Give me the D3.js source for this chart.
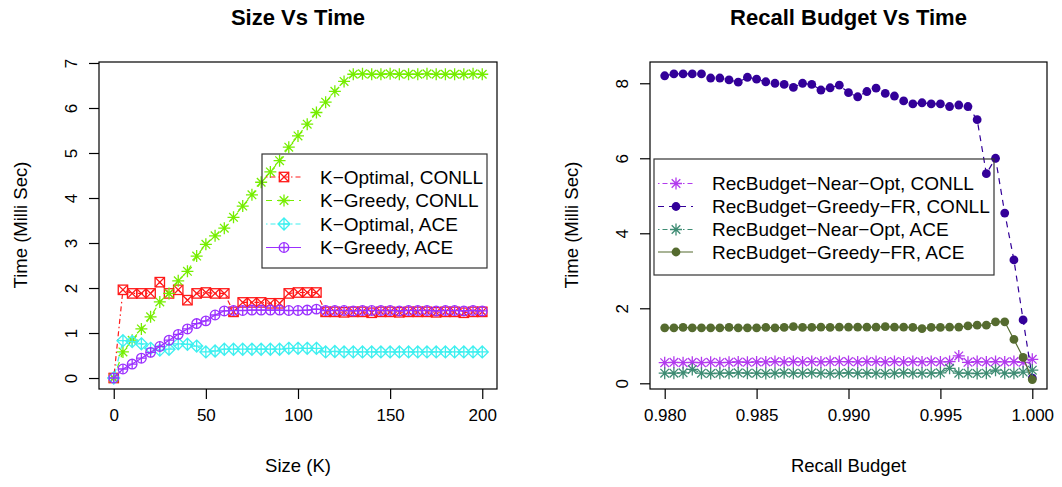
<!DOCTYPE html>
<html>
<head>
<meta charset="utf-8">
<script src="https://cdn.jsdelivr.net/npm/d3@7"></script>
<style>
  body { margin: 0; background: #fff; }
  svg { display: block; font-family: "Liberation Sans", Arial, sans-serif; }
</style>
</head>
<body>
<svg width="1062" height="487"></svg>
<script>
// left panel: size K vs time
var sizeK = [0,5,10,15,20,25,30,35,40,45,50,55,60,65,70,75,80,85,90,95,100,
  105,110,115,120,125,130,135,140,145,150,155,160,165,170,175,180,185,190,195,200];
var kOptConll = [0,1.96,1.88,1.88,1.88,2.13,1.88,1.96,1.73,1.88,1.9,1.88,1.88,1.47,1.68,1.68,1.68,1.66,1.66,1.88,1.9,
  1.9,1.9,1.47,1.47,1.46,1.47,1.47,1.45,1.47,1.47,1.46,1.47,1.47,1.47,1.46,1.47,1.47,1.45,1.47,1.47];
var kGreedyConll = [0,0.58,0.84,1.09,1.36,1.69,1.88,2.16,2.37,2.71,2.97,3.16,3.33,3.57,3.82,4.07,4.35,4.58,4.83,5.13,5.38,
  5.64,5.9,6.13,6.37,6.59,6.75,6.76,6.75,6.75,6.76,6.75,6.75,6.75,6.76,6.75,6.75,6.75,6.75,6.76,6.75];
var kOptAce = [0,0.83,0.81,0.76,0.66,0.62,0.64,0.76,0.75,0.71,0.58,0.6,0.64,0.64,0.64,0.64,0.64,0.64,0.64,0.66,0.66,
  0.66,0.66,0.58,0.59,0.58,0.58,0.58,0.58,0.58,0.58,0.58,0.58,0.58,0.58,0.58,0.58,0.58,0.58,0.58,0.58];
var kGreedyAce = [0,0.2,0.31,0.44,0.57,0.7,0.84,0.97,1.09,1.21,1.27,1.4,1.49,1.5,1.5,1.51,1.51,1.51,1.51,1.5,1.5,
  1.51,1.53,1.5,1.5,1.5,1.49,1.5,1.5,1.5,1.5,1.49,1.5,1.5,1.5,1.49,1.5,1.5,1.49,1.5,1.49];
var sizeTicks = [0,50,100,150,200];
var timeTicksL = [0,1,2,3,4,5,6,7];

// right panel: recall budget vs time
var recall = [0.98,0.9805,0.981,0.9815,0.982,0.9825,0.983,0.9835,0.984,0.9845,0.985,0.9855,0.986,0.9865,
  0.987,0.9875,0.988,0.9885,0.989,0.9895,0.99,0.9905,0.991,0.9915,0.992,0.9925,0.993,0.9935,0.994,0.9945,
  0.995,0.9955,0.996,0.9965,0.997,0.9975,0.998,0.9985,0.999,0.9995,1.0];
var nearOptConll = [0.55,0.56,0.55,0.56,0.55,0.56,0.55,0.56,0.57,0.56,0.57,0.57,0.58,0.57,0.58,0.57,0.58,0.57,0.58,0.58,
  0.58,0.57,0.58,0.58,0.57,0.58,0.57,0.58,0.57,0.58,0.57,0.58,0.73,0.56,0.58,0.57,0.58,0.57,0.58,0.56,0.64];
var greedyFrConll = [8.2,8.25,8.25,8.25,8.25,8.14,8.14,8.09,8.03,8.16,8.11,8.04,8.0,7.97,7.89,8.0,7.97,7.82,7.88,7.95,
  7.75,7.64,7.78,7.87,7.73,7.66,7.53,7.45,7.48,7.45,7.45,7.38,7.42,7.38,7.03,5.59,6.0,4.54,3.29,1.69,0.14];
var nearOptAce = [0.27,0.27,0.28,0.37,0.27,0.26,0.27,0.27,0.28,0.27,0.27,0.26,0.27,0.28,0.27,0.27,0.28,0.27,0.26,0.27,
  0.28,0.27,0.27,0.27,0.26,0.27,0.28,0.27,0.27,0.27,0.28,0.4,0.27,0.27,0.26,0.27,0.35,0.27,0.27,0.3,0.35];
var greedyFrAce = [1.48,1.48,1.49,1.48,1.48,1.48,1.48,1.49,1.48,1.48,1.48,1.49,1.48,1.49,1.51,1.49,1.49,1.5,1.49,1.5,
  1.5,1.5,1.5,1.5,1.51,1.5,1.5,1.49,1.46,1.49,1.49,1.5,1.5,1.53,1.55,1.55,1.64,1.64,1.17,0.69,0.1];
var recallTicks = [0.98,0.985,0.99,0.995,1.0];
var timeTicksR = [0,2,4,6,8];

var svg = d3.select("svg");
var plotTop = 62, plotBottom = 389;

// draw R style point symbols
function marker(g, type, color) {
  var s = g.append("g").attr("stroke", color).attr("stroke-width", 1.3).attr("fill", "none");
  if (type == "boxX") {
    s.append("rect").attr("x", -4.7).attr("y", -4.7).attr("width", 9.4).attr("height", 9.4);
    s.append("path").attr("d", "M-4.7,-4.7L4.7,4.7M-4.7,4.7L4.7,-4.7");
  } else if (type == "star") {
    s.append("path").attr("d", "M-6,0H6M0,-6V6M-4.3,-4.3L4.3,4.3M-4.3,4.3L4.3,-4.3");
  } else if (type == "diamondPlus") {
    s.append("path").attr("d", "M0,-6L6,0L0,6L-6,0ZM-6,0H6M0,-6V6");
  } else if (type == "circlePlus") {
    s.append("circle").attr("r", 4.8);
    s.append("path").attr("d", "M-4.8,0H4.8M0,-4.8V4.8");
  } else if (type == "dot") {
    s.attr("stroke", "none").attr("fill", color);
    s.append("circle").attr("r", 4.4);
  }
}

function panel(opt) {
  var x = d3.scaleLinear().domain(opt.xDomain).range([opt.left, opt.right]);
  var y = d3.scaleLinear().domain(opt.yDomain).range([plotBottom, plotTop]);
  var g = svg.append("g");

  // series
  opt.series.forEach(function(s) {
    var pts = opt.xs.map(function(v, i) { return [v, s.values[i]]; });
    var line = d3.line().x(function(d) { return x(d[0]); }).y(function(d) { return y(d[1]); });
    g.append("path").datum(pts).attr("d", line)
      .attr("fill", "none").attr("stroke", s.color).attr("stroke-width", 1.2)
      .attr("stroke-dasharray", s.dash);
    pts.forEach(function(p) {
      marker(g.append("g").attr("transform", "translate(" + x(p[0]) + "," + y(p[1]) + ")"), s.type, s.color);
    });
  });

  // box
  g.append("rect").attr("x", opt.left).attr("y", plotTop)
    .attr("width", opt.right - opt.left).attr("height", plotBottom - plotTop)
    .attr("fill", "none").attr("stroke", "#000").attr("stroke-width", 1.2);

  var xa = g.append("g").attr("transform", "translate(0," + plotBottom + ")")
    .call(d3.axisBottom(x).tickValues(opt.xTicks).tickSize(10).tickFormat(opt.xFormat));
  xa.select(".domain").remove();
  xa.selectAll("line").attr("stroke-width", 1.2);
  xa.selectAll("text").attr("y", 32).attr("dy", null).attr("font-size", 17).attr("fill", "#000")
    .attr("font-family", "Liberation Sans, Arial");

  var ya = g.append("g").attr("transform", "translate(" + opt.left + ",0)")
    .call(d3.axisLeft(y).tickValues(opt.yTicks).tickSize(10));
  ya.select(".domain").remove();
  ya.selectAll("line").attr("stroke-width", 1.2);
  ya.selectAll("text").attr("transform", "rotate(-90)").attr("x", 0).attr("y", -22)
    .attr("dy", null).attr("text-anchor", "middle").attr("font-size", 17).attr("fill", "#000")
    .attr("font-family", "Liberation Sans, Arial");

  var cx = (opt.left + opt.right) / 2;
  g.append("text").attr("x", cx).attr("y", 25).attr("text-anchor", "middle")
    .attr("font-size", 22).attr("font-weight", "bold").text(opt.title);
  g.append("text").attr("x", cx).attr("y", 472).attr("text-anchor", "middle")
    .attr("font-size", 18.5).text(opt.xLabel);
  g.append("text").attr("transform", "translate(" + (opt.left - 72) + ",225) rotate(-90)")
    .attr("text-anchor", "middle").attr("font-size", 18.5).text("Time (Milli Sec)");

  // legend (transparent, points show through)
  var lg = g.append("g");
  lg.append("rect").attr("x", opt.legend.x).attr("y", opt.legend.y)
    .attr("width", opt.legend.w).attr("height", opt.legend.h)
    .attr("fill", "none").attr("stroke", "#333").attr("stroke-width", 1.2);
  opt.series.forEach(function(s, i) {
    var ly = opt.legend.rowY[i];
    var lx = opt.legend.x + 4;
    lg.append("line").attr("x1", lx).attr("x2", lx + 35).attr("y1", ly).attr("y2", ly)
      .attr("stroke", s.color).attr("stroke-width", 1.2).attr("stroke-dasharray", s.dash);
    marker(lg.append("g").attr("transform", "translate(" + (lx + 18) + "," + ly + ")"), s.type, s.color);
    lg.append("text").attr("x", opt.legend.x + 58).attr("y", ly + 6.5)
      .attr("font-size", 19).text(s.name);
  });
}

panel({
  left: 99, right: 497,
  xDomain: [-8, 208], yDomain: [-0.244, 7.022],
  xs: sizeK, xTicks: sizeTicks, yTicks: timeTicksL, xFormat: d3.format("d"),
  title: "Size Vs Time", xLabel: "Size (K)",
  legend: { x: 262, y: 154, w: 225, h: 114, rowY: [177, 200.5, 224, 247.5] },
  series: [
    { name: "K\u2212Optimal, CONLL", values: kOptConll, color: "#ff1a1a", type: "boxX", dash: "1.5,3,5,3" },
    { name: "K\u2212Greedy, CONLL", values: kGreedyConll, color: "#76ee00", type: "star", dash: "6,5" },
    { name: "K\u2212Optimal, ACE", values: kOptAce, color: "#3ff0f0", type: "diamondPlus", dash: "1.5,3,5,3" },
    { name: "K\u2212Greedy, ACE", values: kGreedyAce, color: "#9b30ff", type: "circlePlus", dash: null }
  ]
});

panel({
  left: 650, right: 1047,
  xDomain: [0.9792, 1.0008], yDomain: [-0.152, 8.567],
  xs: recall, xTicks: recallTicks, yTicks: timeTicksR, xFormat: d3.format(".3f"),
  title: "Recall Budget Vs Time", xLabel: "Recall Budget",
  legend: { x: 654, y: 159, w: 340, h: 116, rowY: [183.5, 206.5, 229.5, 252] },
  series: [
    { name: "RecBudget\u2212Near\u2212Opt, CONLL", values: nearOptConll, color: "#b23aee", type: "star", dash: "1.5,3,5,3" },
    { name: "RecBudget\u2212Greedy\u2212FR, CONLL", values: greedyFrConll, color: "#330099", type: "dot", dash: "6,5" },
    { name: "RecBudget\u2212Near\u2212Opt, ACE", values: nearOptAce, color: "#3e8c73", type: "star", dash: "1.5,3,5,3" },
    { name: "RecBudget\u2212Greedy\u2212FR, ACE", values: greedyFrAce, color: "#556b2f", type: "dot", dash: null }
  ]
});
</script>
</body>
</html>
